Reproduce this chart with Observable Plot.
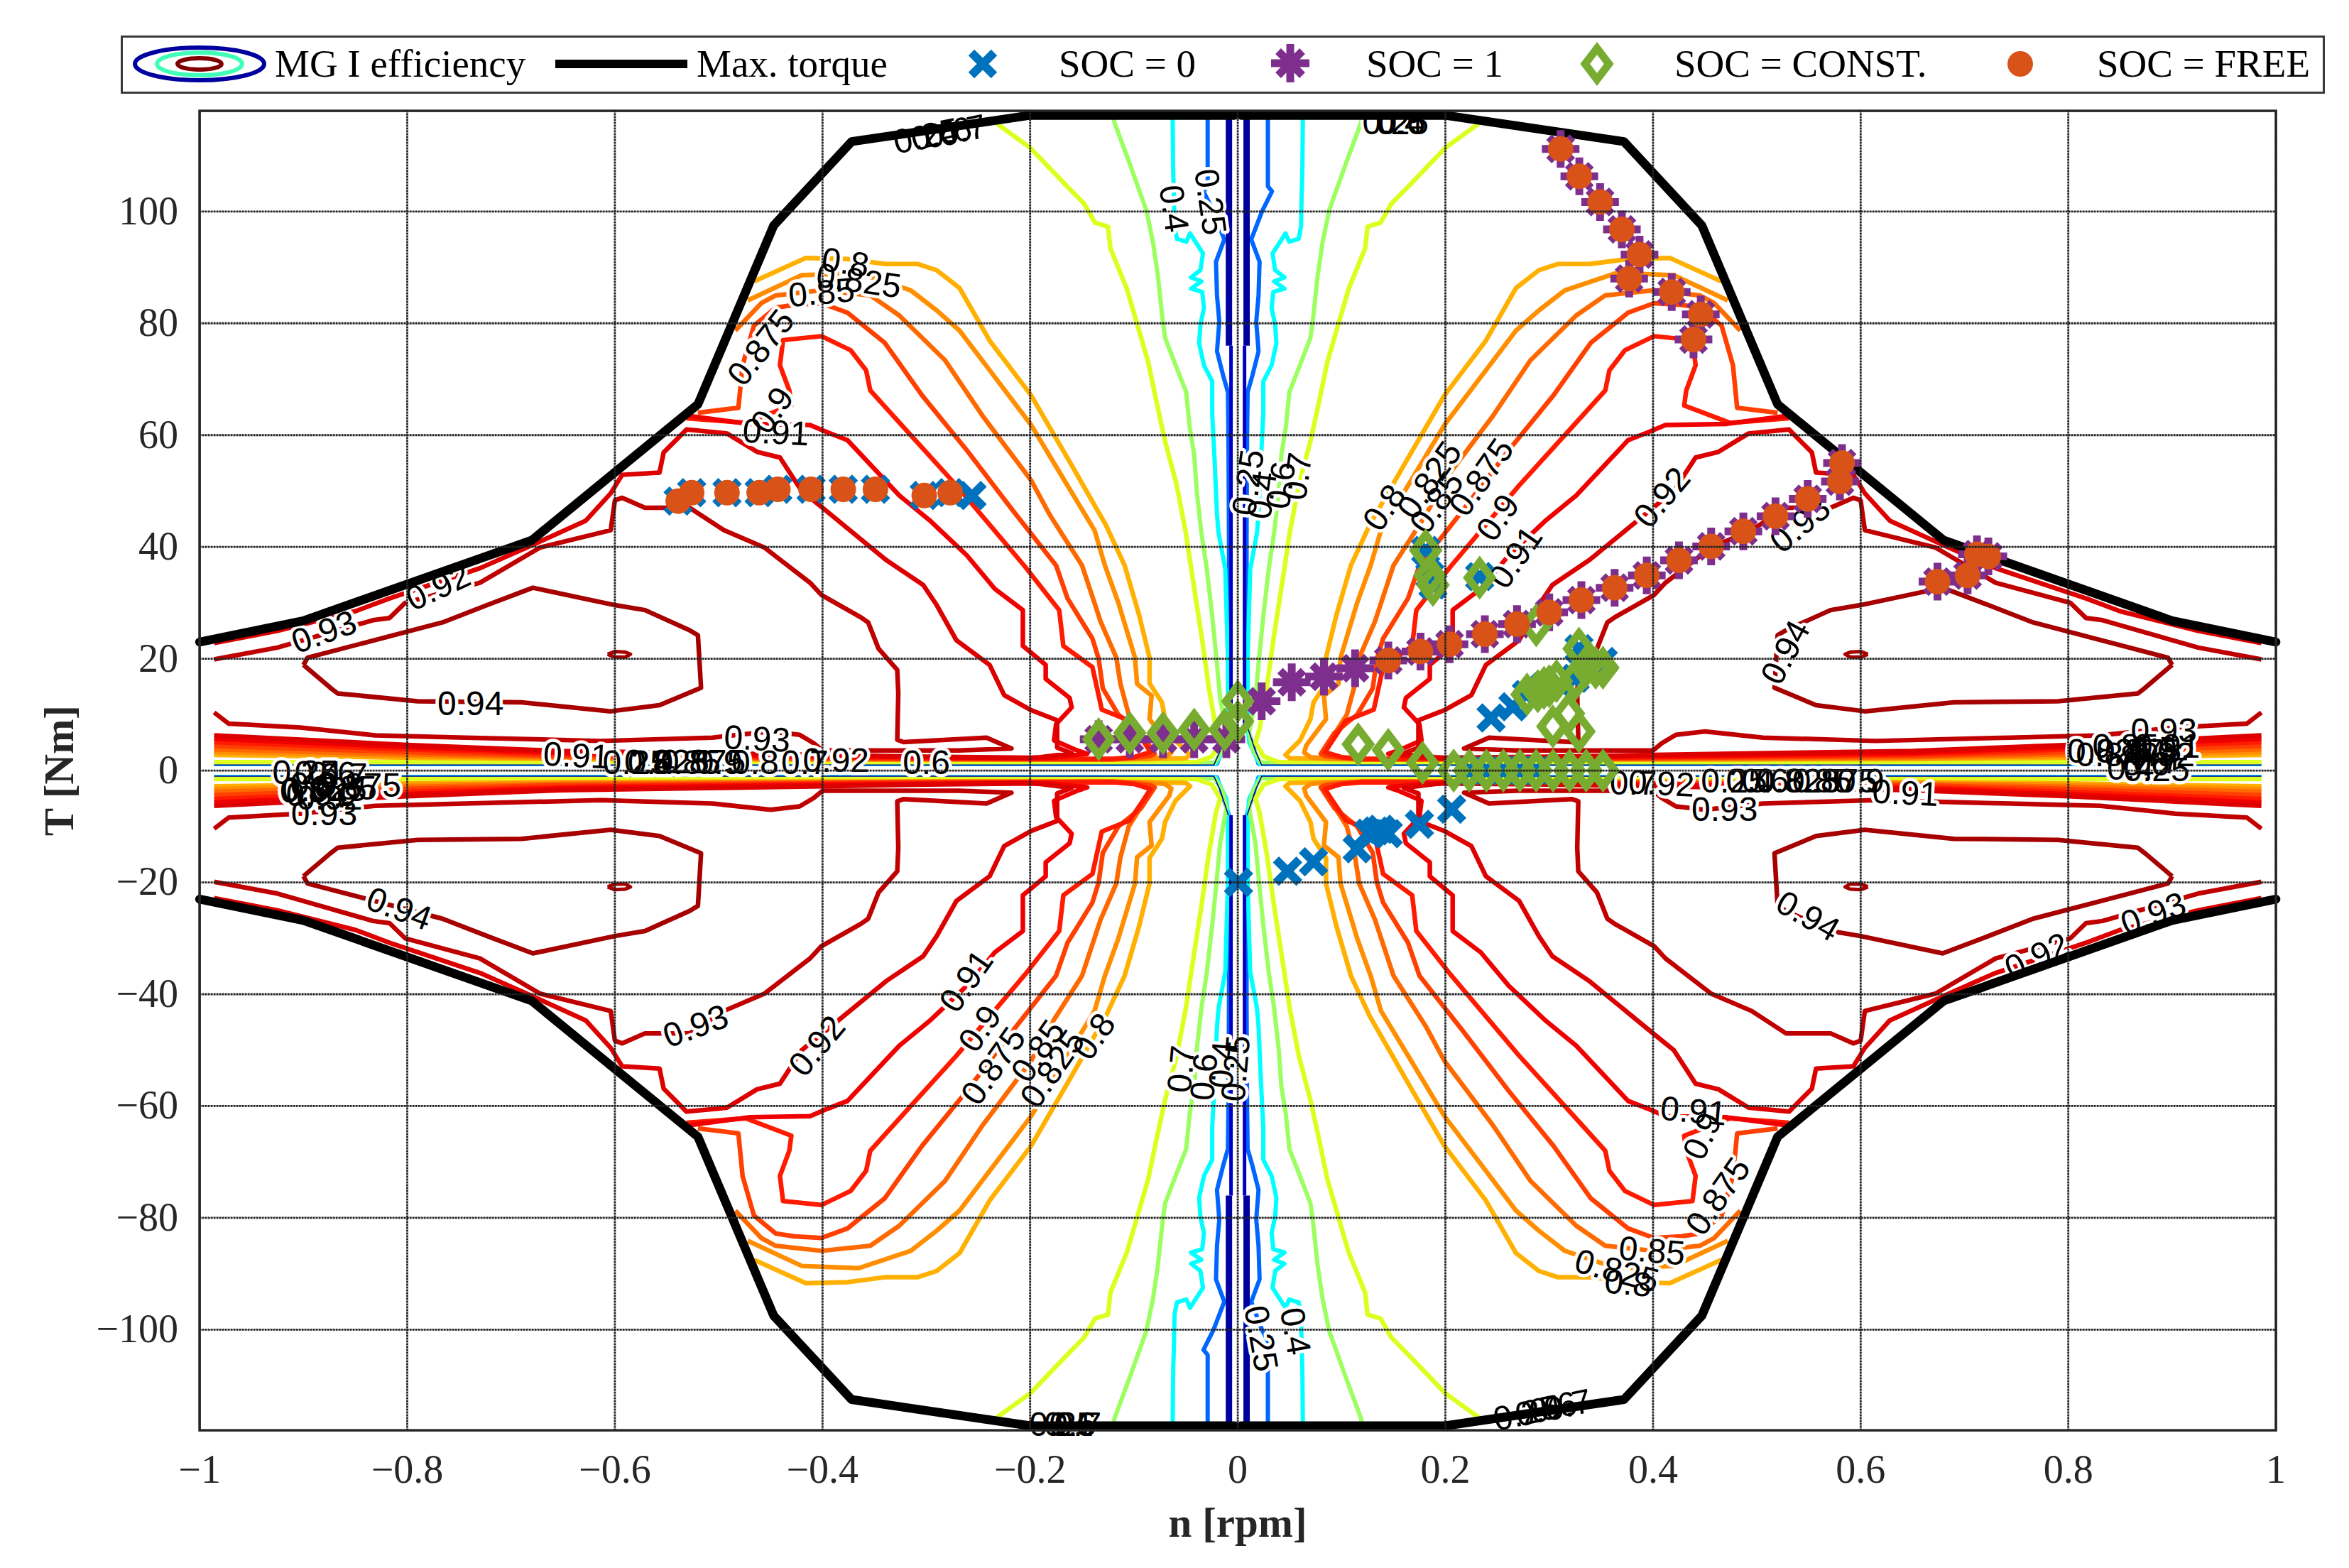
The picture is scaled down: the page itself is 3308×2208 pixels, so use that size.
<!DOCTYPE html>
<html><head><meta charset="utf-8">
<script src="https://cdn.jsdelivr.net/npm/d3@7"></script>
<script src="https://cdn.jsdelivr.net/npm/@observablehq/plot@0.6"></script>
<style>
html,body{margin:0;padding:0;background:#fff;overflow:hidden}
#legend{position:relative;width:3308px;height:140px}
#box{position:absolute;left:170px;top:50px;width:3098px;height:76px;border:3px solid #3a3a3a;box-sizing:content-box}
.lt{position:absolute;top:60px;font:55px/1.107 "Liberation Serif";color:#000;white-space:nowrap}
.ic{position:absolute;overflow:visible}
</style></head><body>
<div id="legend"><div id="box"></div></div>
<div id="chart"></div>
<script>
// contour samples for one quadrant as [|n|, |T|] : the map is symmetric about both axes
const bandN = [.12,.2,.3,.4,.5,.65,.8,.986];
const band80 = [2.0,2.0,2.0,2.0,2.0,2.05,2.3,2.8];
const band825 = [2.0,2.0,2.0,2.0,2.05,2.2,2.6,3.3];
const band85 = [2.0,2.0,2.0,2.1,2.2,2.4,2.9,3.8];
const band875 = [2.0,2.05,2.1,2.2,2.4,2.6,3.3,4.4];
const band90 = [2.1,2.1,2.2,2.4,2.6,2.9,3.8,5.1];
const band91 = [2.2,2.2,2.4,2.6,2.8,3.2,4.2,5.7];
const band92 = [2.3,2.3,2.5,2.8,3.1,3.5,4.6,6.3];

const navyThick = [[.0085,117],[.0085,76]];
const navyThin = [[.0065,76],[.0065,20],[.0065,8]];
const navyEdge = [[.009,8],[.017,3.5],[.023,1],[.986,1]];
const line25 = [[.029,117],[.029,104.5],[.033,103.6],[.0233,100],[.013,95],[.021,91],[.02,85],[.0178,80.3],[.02,75],[.014,70.6],[.0095,67.7],[.009,60],[.0085,42],[.0085,20],[.0085,8],[.02,1.2],[.986,1.15]];
const line40 = [[.0627,117],[.0622,107],[.0616,103.6],[.0609,97.3],[.0586,95.1],[.0495,94.6],[.046,96.1],[.0335,92.5],[.036,89.5],[.045,88.2],[.035,87.5],[.045,86.2],[.0342,85.6],[.0326,82.7],[.036,79.8],[.0372,76.4],[.0326,72.5],[.0246,69.6],[.0246,63.8],[.0223,55.5],[.02,45.8],[.0185,42.5],[.012,36],[.0095,20],[.0095,8],[.011,5],[.021,1.2],[.986,1.2]];
const line60 = [[.119,117],[.119,116],[.104,108.5],[.088,100.2],[.0816,94.4],[.077,88.6],[.0725,80.8],[.07,77.4],[.0588,72],[.0497,67.7],[.0463,61.4],[.042,56.5],[.0394,49.7],[.035,42.5],[.03,36.3],[.0247,27.8],[.0206,20.2],[.017,13],[.011,6.7],[.014,4],[.022,1.4],[.986,1.4]];
const line70 = [[.232,115.7],[.2,111.4],[.166,104.8],[.148,101.4],[.1375,98],[.125,97.3],[.1227,93.4],[.1067,86.1],[.0976,80.3],[.0862,73],[.078,65.7],[.07,58.9],[.059,51.2],[.05,42.5],[.045,36.3],[.0345,23.6],[.028,15],[.021,7.5],[.017,5],[.025,2.5],[.04,1.5],[.986,1.5]];
const line80 = [[.466,87.5],[.416,91.7],[.376,91.5],[.339,90.6],[.308,90.6],[.29,89.5],[.268,86.3],[.239,76.9],[.199,67.1],[.16,54.6],[.127,43.9],[.109,36.7],[.095,27.8],[.085,20.2],[.085,15.6],[.073,12.2],[.07,9.2],[.06,5.4],[.046,2.8],[.05,2.2],[.085,2.05]];
const line825 = [[.472,84.1],[.42,88.6],[.365,89],[.315,85.9],[.29,82.3],[.268,78.7],[.239,71.6],[.199,61.8],[.167,51.9],[.138,43],[.128,36.7],[.115,30],[.099,20.2],[.097,15.5],[.083,13.4],[.085,9.2],[.066,4.5],[.064,3.2],[.07,2.4],[.09,2.1]];
const line85 = [[.484,78.7],[.459,83.6],[.445,85],[.401,85.9],[.354,85],[.326,81.4],[.282,73.4],[.246,63.5],[.199,51.9],[.181,45.7],[.15,36.7],[.132,26.6],[.117,20.2],[.113,15.5],[.105,10],[.085,4.1],[.083,2.6],[.1,2.2]];
const line875 = [[.52,64],[.481,64.9],[.477,72.5],[.466,79.6],[.445,82.8],[.427,83.3],[.401,83.6],[.376,81.9],[.34,76.5],[.304,67.1],[.261,57.3],[.217,46.6],[.175,36.7],[.164,30.8],[.14,23.6],[.134,20],[.13,14.7],[.115,10],[.093,6.7],[.08,3],[.085,2.6]];
const line90 = [[.531,63],[.474,62.2],[.43,65.3],[.432,68],[.441,72.5],[.438,77],[.401,77.7],[.373,75.2],[.358,71.6],[.354,68],[.315,60],[.271,51],[.205,36.5],[.172,28.7],[.168,22.3],[.14,18.5],[.131,10.9],[.104,8.9],[.09,5],[.084,3.3],[.1,2.4]];
const line91 = [[.531,63.5],[.47,62],[.412,61.8],[.394,60.4],[.376,59.1],[.326,49.2],[.297,44.8],[.261,38.5],[.234,32.5],[.207,28.7],[.207,22.3],[.185,18.9],[.185,16.4],[.162,13],[.16,11.3],[.175,8.3],[.177,5.4],[.156,3.7],[.145,3],[.18,2.3]];
const line92 = [[.986,22.8],[.925,25],[.85,28.5],[.817,30.8],[.73,36.2],[.686,39.8],[.628,44.7],[.604,49.6],[.593,52.9],[.557,53.3],[.553,56.9],[.531,61],[.492,60.3],[.463,57],[.441,56],[.42,50],[.4,47],[.339,37.7],[.303,33.2],[.29,29.6],[.271,23.3],[.239,18.9],[.225,13.5],[.199,10.8],[.174,9],[.174,4.1],[.16,3.1],[.19,2.4]];
const line93 = [[.986,19.9],[.925,22],[.833,26.9],[.817,27.3],[.802,30],[.73,33.6],[.672,39.9],[.604,43],[.6,48.3],[.593,48.8],[.571,47],[.528,47],[.495,43],[.456,39.9],[.412,33.6],[.401,31.4],[.363,27.4],[.356,26.5],[.346,21.8],[.328,18],[.327,13.8],[.328,5.5],[.322,5.1],[.242,5.9],[.218,3.95],[.2685,3.6],[.358,3.6],[.4,3.6],[.4085,4.9],[.422,6.4],[.45,7],[.506,5.9],[.614,5.3],[.744,5.9],[.831,6.3],[.903,7.7],[.972,8.4],[.986,10.4]];
const line94 = [[.9,18.9],[.874,14.8],[.867,13.8],[.79,12.4],[.69,12.2],[.604,10.6],[.557,11.7],[.517,14.8],[.52,24.2],[.528,25.1],[.571,28.7],[.6,29.6],[.679,32.7],[.723,29.6],[.766,26.5],[.896,20.2],[.9,18.9]];
const line94Small = [[.607,20.8],[.6,21.3],[.59,21.2],[.585,20.8],[.59,20.3],[.6,20.3],[.607,20.8]];

const torqueN = [.003,.2,.372,.447,.52,.68,.9,1];
const torqueT = [117.2,117.2,112.5,97.5,65.5,41.2,26.8,23];

// operating points
const socZero = [[-.539,48.2],[-.526,49.7],[-.492,49.7],[-.461,49.7],[-.443,50.3],[-.411,50.3],[-.38,50.3],[-.349,50.3],[-.302,49.2],[-.277,49.7],[-.256,49.2],
 [.0007,-20],[.048,-18],[.073,-16.3],[.115,-14],[.126,-11.2],[.138,-10.5],[.145,-11.3],[.133,-10.8],[.175,-9.6],[.206,-6.9],
 [.244,9.4],[.265,11.4],[.278,13.6],[.295,15],[.31,15.5],[.325,16.5],[.3287,21.8],[.3447,18.9],[.352,19.5],
 [.181,39.4],[.185,34.9],[.188,33.2],[.233,34.7],[.223,0],[.2395,0],[.2558,0],[.2718,0],[.2874,0]];
const socOne = [[-.134,5.6],[-.104,5.6],[-.072,5.6],[-.042,5.6],[-.011,5.6],[.023,12.4],[.052,15.8],[.083,16.8],[.113,18.3],
 [.311,111.2],[.329,106.3],[.349,101.7],[.37,96.8],[.387,92.3],[.377,88],[.418,85.6],[.446,81.6],[.439,77.1],
 [.145,19.7],[.176,21.3],[.204,22.6],[.238,24.4],[.269,26.2],[.3,28.3],[.331,30.5],[.363,32.7],[.394,34.9],[.425,37.6],[.456,40.1],[.487,42.8],[.518,45.5],[.549,48.6],[.58,51.7],[.582,55],
 [.674,33.8],[.703,34.9],[.712,38.7],[.723,38.3]];
const socConst = [[-.134,5.6],[-.104,6.7],[-.072,6.7],[-.042,7.3],[-.0126,7.3],[0,8.8],[0,12.4],[.116,4.7],[.145,3.7],[.178,1.4],
 [.208,0],[.223,0],[.2395,0],[.2558,0],[.2718,0],[.2874,0],[.3037,0],[.3197,0],[.3356,0],[.3518,0],
 [.2786,13.6],[.289,14.2],[.295,14.8],[.3,15.1],[.307,16],[.325,16.3],[.3287,21.8],[.3447,18.4],[.3517,18.4],[.335,18.5],[.3035,7.9],[.3186,10.2],[.3287,7],
 [.2875,26],[.181,39.4],[.185,34.9],[.188,33.2],[.233,34.5]];
const socFree = [[-.539,48.2],[-.526,49.7],[-.492,49.7],[-.461,49.7],[-.443,50.3],[-.411,50.3],[-.38,50.3],[-.349,50.3],[-.302,49.2],[-.277,49.7],
 [.311,111.2],[.329,106.3],[.349,101.7],[.37,96.8],[.387,92.3],[.377,88],[.418,85.6],[.446,81.6],[.439,77.1],
 [.145,19.7],[.176,21.3],[.204,22.6],[.238,24.4],[.269,26.2],[.3,28.3],[.331,30.5],[.363,32.7],[.394,34.9],[.425,37.6],[.456,40.1],[.487,42.8],[.518,45.5],[.549,48.6],[.58,51.7],[.582,55],
 [.674,33.8],[.703,34.9],[.712,38.7],[.723,38.3]];

// contour labels : text, n, T, rotation
const contourLabels = [
 ["0.8",-.378,90.8,8],["0.825",-.365,87.5,8],["0.85",-.401,85.4,-5],["0.875",-.459,75.6,-52],["0.9",-.448,64.4,-55],["0.91",-.445,60.4,3],
 ["0.92",-.77,32.7,-25],["0.93",-.88,24.7,-20],["0.94",-.739,11.9,0],["0.93",-.463,5.6,3],["0.91",-.637,2.6,3],
 ["0.25",-.58,1.3,0],["0.4",-.565,1.3,0],["0.825",-.55,1.4,0],["0.85",-.53,1.3,0],["0.875",-.515,1.4,0],["0.9",-.5,1.3,0],["0.8",-.465,1.3,0],
 ["0.7",-.417,1.3,0],["0.92",-.387,1.7,0],["0.6",-.3,1.3,0],
 ["0.25",-.027,101.7,82],["0.4",-.062,100.5,82],
 ["0.25",.0105,51.5,-82],["0.4",.024,49.2,-82],["0.6",.042,51,-82],["0.7",.058,52.6,-82],
 ["0.8",.1415,47,-55],["0.825",.185,51.9,-55],["0.85",.192,47.9,-55],["0.875",.235,52.4,-55],["0.9",.251,45.2,-55],["0.91",.268,38.1,-55],["0.92",.409,48.8,-50],["0.93",.542,43.9,-40],["0.94",.528,21.1,-62],
 ["0.93",.892,7,0],["0.8",.83,2.7,0],["0.825",.84,3.4,0],["0.85",.855,4.3,0],["0.875",.868,3.4,0],["0.9",.882,3.7,0],["0.91",.895,4.3,0],["0.92",.89,2.7,0],["0.7",.885,1.5,0],["0.6",.875,1.1,0],["0.4",.86,.3,0],["0.25",.885,.1,0],
 ["0.25",-.898,-.5,0],["0.4",-.886,-.6,0],["0.6",-.872,-.7,0],["0.7",-.861,-1,0],["0.8",-.9,-3.7,0],["0.825",-.88,-3.5,0],["0.85",-.861,-3.3,0],["0.875",-.847,-2.7,0],["0.9",-.89,-2.6,0],["0.91",-.885,-4.4,0],["0.92",-.875,-5,0],["0.93",-.88,-7.8,0],
 ["0.94",-.808,-24.8,20],["0.93",-.522,-45.8,-20],["0.92",-.405,-49.3,-50],["0.91",-.261,-37.7,-55],["0.9",-.248,-46.2,-55],["0.875",-.235,-52.9,-55],["0.85",-.192,-50.2,-55],["0.825",-.178,-53.4,-55],["0.8",-.138,-47.6,-55],
 ["0.7",-.054,-53.4,-85],["0.6",-.032,-54.8,-85],["0.4",-.014,-52.6,-85],["0.25",-.0015,-53.3,-85],
 ["0.25",.022,-101.6,80],["0.4",.055,-100.3,80],
 ["0.91",.439,-61,5],["0.9",.448,-65.4,-65],["0.875",.463,-76.2,-55],["0.85",.399,-86,5],["0.825",.365,-89.6,15],["0.8",.376,-91.8,5],
 ["0.94",.549,-26.1,30],["0.92",.77,-33.3,-25],["0.93",.882,-25.7,-20],
 ["0.91",.643,-4.1,3],["0.93",.469,-7.1,0],["0.92",.408,-2.4,3],["0.7",.381,-2.4,0],
 ["0.25",.478,-2,0],["0.4",.493,-2,0],["0.6",.508,-2,0],["0.8",.522,-2,0],["0.825",.54,-2,0],["0.85",.56,-2,0],["0.875",.575,-2,0],["0.9",.6,-2,0],
 ["0.25",-.3,113.4,-12],["0.4",-.292,113.6,-12],["0.6",-.279,114,-12],["0.7",-.265,114.4,-12],
 ["0.25",.152,115.8,0],["0.4",.156,115.8,0],["0.6",.158,115.8,0],
 ["0.25",-.169,-117.1,0],["0.4",-.164,-117.1,0],["0.6",-.159,-117.1,0],["0.7",-.154,-117.1,0],
 ["0.25",.278,-115,-12],["0.4",.29,-114.6,-12],["0.6",.304,-114,-12],["0.7",.318,-113.6,-12]
];

const xTicks = [-1,-.8,-.6,-.4,-.2,0,.2,.4,.6,.8,1];
const yTicks = [-100,-80,-60,-40,-20,0,20,40,60,80,100];
const legendLabels = ["MG I efficiency","Max. torque","SOC = 0","SOC = 1","SOC = CONST.","SOC = FREE"];
const legendX = [387,981,1491,1924,2358,2953];

const C = {navy:"#00009f",navy2:"#0000c4",b25:"#0066ff",c40:"#00ffff",c60:"#9cff60",c70:"#dcff20",c80:"#ffb000",c825:"#ff8f00",c85:"#ff6a00",c875:"#ff4000",c90:"#ff1a00",c91:"#f00000",c92:"#dc0000",c93:"#c00000",c94:"#a60000"};
const soc = {zero:"#0072BD",one:"#7E2F8E",cst:"#77AC30",free:"#D95319"};

const withBand = (path, band) => path.concat(bandN.map((n,i)=>[n,band[i]]).filter(d => d[0] > path[path.length-1][0]));
const contourSet = [
 [line25,C.b25,6],[line40,C.c40,6],[navyThick,C.navy,9],[navyThin,C.navy2,5],[line60,C.c60,6],[line70,C.c70,6.5],
 [withBand(line80,band80),C.c80,6.5],[withBand(line825,band825),C.c825,6.5],[withBand(line85,band85),C.c85,6.5],[withBand(line875,band875),C.c875,6.5],
 [withBand(line90,band90),C.c90,6.5],[withBand(line91,band91),C.c91,6.5],[withBand(line92,band92),C.c92,6.5],[line93,C.c93,6.5],[line94,C.c94,6.5],[line94Small,C.c94,5],[navyEdge,C.navy,1.6]
];
const quadrants = [[1,1],[-1,1],[1,-1],[-1,-1]];
const mirrored = path => quadrants.flatMap(([sx,sy],q) => path.map(([n,t]) => ({n:sx*n,t:sy*t,q})));
const pts = a => a.map(([n,t]) => ({n,t}));
const labelRows = contourLabels.map(([text,n,t,angle]) => ({text,n,t,angle}));

const half = s => Math.sqrt(s/Math.PI);
const symX = {draw(c,s){const r=half(s);c.moveTo(-r,-r);c.lineTo(r,r);c.moveTo(-r,r);c.lineTo(r,-r);}};
const symStar = {draw(c,s){const r=half(s),d=r*.62;c.moveTo(0,-r);c.lineTo(0,r);c.moveTo(-r,0);c.lineTo(r,0);c.moveTo(-d,-d);c.lineTo(d,d);c.moveTo(-d,d);c.lineTo(d,-d);}};
const symDiamond = {draw(c,s){const r=half(s),w=r*.76;c.moveTo(0,-r);c.lineTo(w,0);c.lineTo(0,r);c.lineTo(-w,0);c.closePath();}};

const serif = "Liberation Serif";
const fmt = d => String(d).replace("-","\u2212");

const chart = Plot.plot({
  width:3308, height:2068,
  marginTop:15.6, marginBottom:194.4, marginLeft:280.6, marginRight:103.4,
  style:{background:"#fff",overflow:"visible"},
  x:{domain:[-1,1]}, y:{domain:[-118,118]},
  marks:[
    ...contourSet.map(([path,color,w]) => Plot.line(mirrored(path),{x:"n",y:"t",z:"q",stroke:color,strokeWidth:w,strokeLinejoin:"round",strokeLinecap:"butt"})),
    Plot.text(labelRows,{x:"n",y:"t",text:"text",rotate:"angle",fontFamily:"Liberation Sans",fontSize:48,fill:"#fff",stroke:"#fff",strokeWidth:9}),
    Plot.text(labelRows,{x:"n",y:"t",text:"text",rotate:"angle",fontFamily:"Liberation Sans",fontSize:48,fill:"#000"}),
    ...[1,-1].flatMap(sx => [1,-1].map(sy => Plot.line(torqueN.map((n,i)=>({n:sx*n,t:sy*torqueT[i]})),{x:"n",y:"t",stroke:"#000",strokeWidth:12.5,strokeLinejoin:"round"}))),
    Plot.dot(pts(socZero),{x:"n",y:"t",r:16.5,symbol:symX,stroke:soc.zero,strokeWidth:12,fill:"none"}),
    Plot.dot(pts(socOne),{x:"n",y:"t",r:26.5,symbol:symStar,stroke:soc.one,strokeWidth:11,fill:"none"}),
    Plot.dot(pts(socConst),{x:"n",y:"t",r:22,symbol:symDiamond,stroke:soc.cst,strokeWidth:11,fill:"none",strokeLinejoin:"miter"}),
    Plot.dot(pts(socFree),{x:"n",y:"t",r:18,fill:soc.free,stroke:"none"}),
    Plot.gridX(xTicks,{stroke:"#222",strokeOpacity:1,strokeWidth:2.8,strokeDasharray:"3 1"}),
    Plot.gridY(yTicks,{stroke:"#222",strokeOpacity:1,strokeWidth:2.8,strokeDasharray:"3 1"}),
    Plot.frame({stroke:"#262626",strokeWidth:3.5}),
    Plot.axisX({ticks:xTicks,tickFormat:fmt,tickSize:0,tickPadding:34,fontSize:56,fontFamily:serif,color:"#262626",label:null}),
    Plot.axisY({ticks:yTicks,tickFormat:fmt,tickSize:0,tickPadding:30,fontSize:56,fontFamily:serif,color:"#262626",label:null}),
    Plot.axisX({ticks:[],label:"n [rpm]",labelAnchor:"center",labelArrow:"none",labelOffset:150,fontSize:59,fontWeight:"bold",fontFamily:serif,color:"#262626"}),
    Plot.axisY({ticks:[],label:"T [Nm]",labelAnchor:"center",labelArrow:"none",labelOffset:220,fontSize:59,fontWeight:"bold",fontFamily:serif,color:"#262626"})
  ]
});
chart.style.display="block";
document.getElementById("chart").append(chart);

// legend
const legend = document.getElementById("legend");
legendLabels.forEach((t,i)=>{const s=document.createElement("span");s.className="lt";s.style.left=legendX[i]+"px";s.textContent=t;legend.append(s);});
function icon(cx,cy,inner){
  const ns="http://www.w3.org/2000/svg",svg=document.createElementNS(ns,"svg");
  svg.setAttribute("width",240);svg.setAttribute("height",80);svg.setAttribute("viewBox","-120 -40 240 80");svg.setAttribute("class","ic");
  svg.style.left=(cx-120)+"px";svg.style.top=(cy-40)+"px";svg.innerHTML=inner;legend.append(svg);
}
icon(281,90,`<ellipse rx="91" ry="23" fill="none" stroke="#00009f" stroke-width="6"/><ellipse rx="60" ry="16" fill="none" stroke="#40ffb8" stroke-width="6"/><ellipse rx="31" ry="8" fill="none" stroke="#800000" stroke-width="6"/>`);
icon(875,90,`<line x1="-93" x2="93" stroke="#000" stroke-width="12"/>`);
icon(1384,90,`<path d="M-16-16L16 16M-16 16L16-16" stroke="${soc.zero}" stroke-width="12"/>`);
icon(1817,89,`<path d="M0-27V27M-27 0H27M-17-17L17 17M-17 17L17-17" stroke="${soc.one}" stroke-width="11"/>`);
icon(2249,90,`<path d="M0-22L16.7 0L0 22L-16.7 0Z" fill="none" stroke="${soc.cst}" stroke-width="11"/>`);
icon(2845,90,`<circle r="18" fill="${soc.free}"/>`);
</script>
</body></html>
